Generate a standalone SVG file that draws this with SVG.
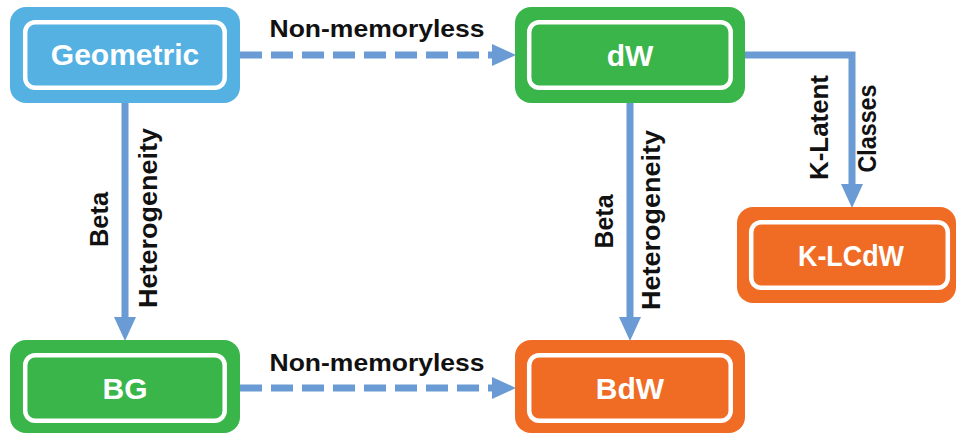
<svg xmlns="http://www.w3.org/2000/svg" width="957" height="434" viewBox="0 0 957 434">
  <style>
    .outer { stroke: none; }
    .blue { fill: #56B1E3; }
    .green { fill: #39B54A; }
    .orange { fill: #F06C25; }
    .inner { fill: none; stroke: #FFFFFF; stroke-width: 4.5; }
    .ntext { font-family: "Liberation Sans", Arial, sans-serif; font-weight: bold; font-size: 30px; fill: #FFFFFF; text-anchor: middle; }
    .ltext { font-family: "Liberation Sans", Arial, sans-serif; font-weight: bold; font-size: 24px; fill: #111111; text-anchor: middle; }
    .vtext { font-family: "Liberation Sans", Arial, sans-serif; font-weight: bold; font-size: 26px; fill: #111111; text-anchor: middle; }
    .conn { fill: none; stroke: #6A9BD4; stroke-width: 7; stroke-linejoin: miter; }
    .dash { stroke-dasharray: 22 9; }
  </style>
  <defs>
    <marker id="arrow" viewBox="0 0 24 22" refX="0" refY="11" markerWidth="24" markerHeight="22" markerUnits="userSpaceOnUse" orient="auto">
      <path d="M0,0 L24,11 L0,22 Z" fill="#6A9BD4"/>
    </marker>
  </defs>

  <g id="connectors">
    <line class="conn dash" x1="240" y1="55" x2="492" y2="55" marker-end="url(#arrow)"/>
    <line class="conn dash" x1="240" y1="388" x2="492" y2="388" marker-end="url(#arrow)"/>
    <line class="conn" x1="125" y1="103" x2="125" y2="317" marker-end="url(#arrow)"/>
    <line class="conn" x1="630" y1="103" x2="630" y2="317" marker-end="url(#arrow)"/>
    <polyline class="conn" points="745,55 852,55 852,184" marker-end="url(#arrow)"/>
    <text class="ltext" x="377" y="37" textLength="215" lengthAdjust="spacingAndGlyphs">Non-memoryless</text>
    <text class="ltext" x="377" y="371" textLength="215" lengthAdjust="spacingAndGlyphs">Non-memoryless</text>
    <text class="vtext" transform="translate(108,219.5) rotate(-90)" textLength="55" lengthAdjust="spacingAndGlyphs">Beta</text>
    <text class="vtext" transform="translate(157,218) rotate(-90)" textLength="180" lengthAdjust="spacingAndGlyphs">Heterogeneity</text>
    <text class="vtext" transform="translate(613,221.5) rotate(-90)" textLength="54" lengthAdjust="spacingAndGlyphs">Beta</text>
    <text class="vtext" transform="translate(660,220) rotate(-90)" textLength="180" lengthAdjust="spacingAndGlyphs">Heterogeneity</text>
    <text class="vtext" transform="translate(828,127.5) rotate(-90)" textLength="105" lengthAdjust="spacingAndGlyphs">K-Latent</text>
    <text class="vtext" transform="translate(876,128.5) rotate(-90)" textLength="88" lengthAdjust="spacingAndGlyphs">Classes</text>
  </g>

  <g id="node-geometric">
    <rect class="outer blue" x="10" y="7" width="230" height="96" rx="16"/>
    <rect class="inner" x="25.2" y="22.2" width="199.5" height="65.6" rx="10"/>
    <text class="ntext" x="125" y="65">Geometric</text>
  </g>

  <g id="node-dw">
    <rect class="outer green" x="515" y="7" width="230" height="96" rx="16"/>
    <rect class="inner" x="529.2" y="22.2" width="201.5" height="65.6" rx="10"/>
    <text class="ntext" x="630" y="66">dW</text>
  </g>

  <g id="node-bg">
    <rect class="outer green" x="10" y="340" width="230" height="93" rx="16"/>
    <rect class="inner" x="25.2" y="355.2" width="199.5" height="65.6" rx="10"/>
    <text class="ntext" x="125" y="399">BG</text>
  </g>

  <g id="node-bdw">
    <rect class="outer orange" x="515" y="340" width="230" height="93" rx="16"/>
    <rect class="inner" x="529.2" y="355.2" width="201.5" height="65.6" rx="10"/>
    <text class="ntext" x="630" y="399">BdW</text>
  </g>

  <g id="node-klcdw">
    <rect class="outer orange" x="737" y="207" width="219" height="96" rx="16"/>
    <rect class="inner" x="751.2" y="222.2" width="196.6" height="65.6" rx="10"/>
    <text class="ntext" x="851" y="266" textLength="106" lengthAdjust="spacingAndGlyphs">K-LCdW</text>
  </g>
</svg>
